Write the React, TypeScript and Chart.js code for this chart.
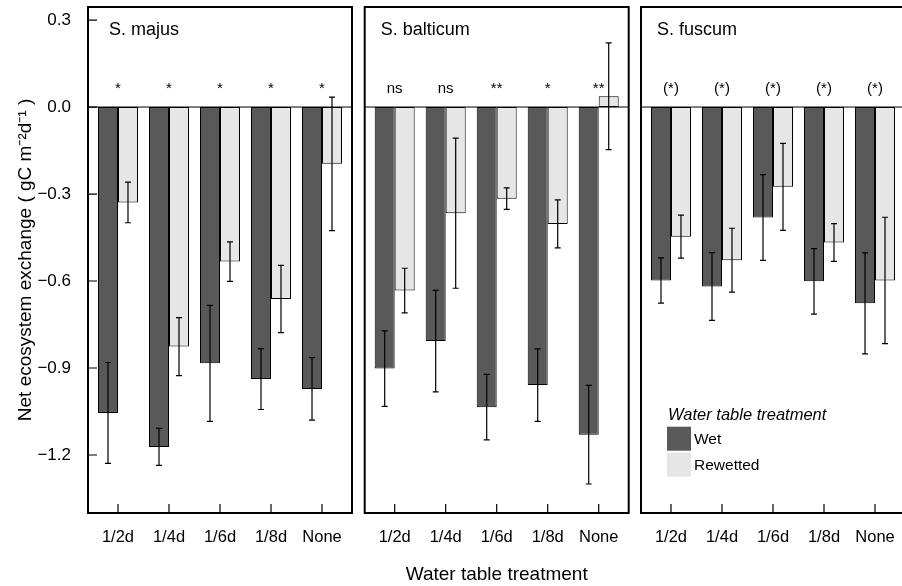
import React, { useEffect, useRef } from "react";
import { Chart, registerables } from "chart.js";
Chart.register(...registerables);

// ---------- data ----------
const categories = ["1/2d", "1/4d", "1/6d", "1/8d", "None"];
const seriesNames = ["Wet", "Rewetted"];
const yTickValues = [-1.2, -0.9, -0.6, -0.3, 0, 0.3];

const majusWet = [-1.055, -1.172, -0.884, -0.938, -0.972];
const majusWetErr = [0.174, 0.064, 0.2, 0.105, 0.108];
const majusRewet = [-0.329, -0.826, -0.533, -0.662, -0.196];
const majusRewetErr = [0.07, 0.1, 0.068, 0.116, 0.23];
const majusSig = ["*", "*", "*", "*", "*"];

const balticumWet = [-0.902, -0.807, -1.035, -0.959, -1.13];
const balticumWetErr = [0.13, 0.175, 0.113, 0.125, 0.17];
const balticumRewet = [-0.633, -0.366, -0.316, -0.403, 0.037];
const balticumRewetErr = [0.077, 0.259, 0.037, 0.083, 0.184];
const balticumSig = ["ns", "ns", "**", "*", "**"];

const fuscumWet = [-0.598, -0.619, -0.381, -0.601, -0.677];
const fuscumWetErr = [0.078, 0.117, 0.148, 0.113, 0.174];
const fuscumRewet = [-0.447, -0.528, -0.275, -0.467, -0.598];
const fuscumRewetErr = [0.074, 0.11, 0.15, 0.065, 0.218];
const fuscumSig = ["(*)", "(*)", "(*)", "(*)", "(*)"];

const yTitle = "Net ecosystem exchange ( gC m\u207B\u00B2d\u207B\u00B9 )";
const xTitle = "Water table treatment";
const legendTitle = "Water table treatment";

// ---------- styles ----------
const FONT = "'Liberation Sans', Arial, Helvetica, sans-serif";
const WET = "#595959";
const REWET = "#e6e6e6";
const H = 586;

type Panel = {
  title: string;
  wet: number[];
  wetErr: number[];
  rew: number[];
  rewErr: number[];
  sig: string[];
  left: number;
  width: number;
  padL: number;
  padR: number;
  titleDx: number;
  showY: boolean;
  showXTitle: boolean;
  showLegend: boolean;
};

const panels: Panel[] = [
  { title: "S. majus", wet: majusWet, wetErr: majusWetErr, rew: majusRewet, rewErr: majusRewetErr, sig: majusSig,
    left: 0, width: 360, padL: 0, padR: 8, titleDx: 21, showY: true, showXTitle: false, showLegend: false },
  { title: "S. balticum", wet: balticumWet, wetErr: balticumWetErr, rew: balticumRewet, rewErr: balticumRewetErr, sig: balticumSig,
    left: 358, width: 280, padL: 6.7, padR: 9.3, titleDx: 16, showY: false, showXTitle: true, showLegend: false },
  { title: "S. fuscum", wet: fuscumWet, wetErr: fuscumWetErr, rew: fuscumRewet, rewErr: fuscumRewetErr, sig: fuscumSig,
    left: 634, width: 280, padL: 7, padR: 9, titleDx: 16, showY: false, showXTitle: false, showLegend: true },
];

const fmtY = (v: number) => (v < -1e-9 ? "\u2212" : "") + Math.abs(v).toFixed(1);

const decorPlugin = {
  id: "panelDecor",
  afterDatasetsDraw(chart: any, _args: any, opts: any) {
    const { ctx, chartArea: a, scales } = chart;
    const xs = scales.x;
    const ys = scales.y;
    ctx.save();
    ctx.strokeStyle = "#000";
    ctx.fillStyle = "#000";

    // zero line
    const y0 = ys.getPixelForValue(0);
    ctx.lineWidth = 1;
    ctx.beginPath();
    ctx.moveTo(a.left, y0);
    ctx.lineTo(a.right, y0);
    ctx.stroke();

    // error bars
    ctx.lineWidth = 1.2;
    chart.data.datasets.forEach((ds: any, di: number) => {
      const meta = chart.getDatasetMeta(di);
      const errs: number[] = opts.errors[di];
      meta.data.forEach((bar: any, i: number) => {
        const v = ds.data[i].y;
        const e = errs[i];
        const t = ys.getPixelForValue(v + e);
        const b = ys.getPixelForValue(v - e);
        const cx = bar.x;
        ctx.beginPath();
        ctx.moveTo(cx, t);
        ctx.lineTo(cx, b);
        ctx.moveTo(cx - 3, t);
        ctx.lineTo(cx + 3, t);
        ctx.moveTo(cx - 3, b);
        ctx.lineTo(cx + 3, b);
        ctx.stroke();
      });
    });

    // significance labels
    ctx.font = `15px ${FONT}`;
    ctx.textAlign = "center";
    ctx.textBaseline = "alphabetic";
    opts.sig.forEach((s: string, i: number) => {
      ctx.fillText(s, xs.getPixelForValue(i + 1), y0 - 14);
    });

    // inward ticks
    ctx.lineWidth = 1.2;
    ctx.beginPath();
    categories.forEach((_c, i) => {
      const px = xs.getPixelForValue(i + 1);
      ctx.moveTo(px, a.bottom);
      ctx.lineTo(px, a.bottom - 9);
    });
    if (opts.showY) {
      yTickValues.forEach((v) => {
        const py = ys.getPixelForValue(v);
        ctx.moveTo(a.left, py);
        ctx.lineTo(a.left + 9, py);
      });
    }
    ctx.stroke();

    // frame
    ctx.lineWidth = 2;
    ctx.strokeRect(a.left, a.top, a.right - a.left, a.bottom - a.top);

    // panel title
    ctx.font = `18px ${FONT}`;
    ctx.textAlign = "left";
    ctx.textBaseline = "alphabetic";
    ctx.fillText(opts.title, a.left + opts.titleDx, a.top + 28);

    // legend
    if (opts.showLegend) {
      ctx.font = `italic 16.5px ${FONT}`;
      ctx.fillText(legendTitle, a.left + 27, a.bottom - 93);
      const colors = [WET, REWET];
      ctx.font = `15.5px ${FONT}`;
      ctx.textBaseline = "middle";
      seriesNames.forEach((n, i) => {
        const top = a.bottom - 86.3 + i * 26;
        ctx.fillStyle = colors[i];
        ctx.fillRect(a.left + 26, top, 24, 24);
        ctx.fillStyle = "#000";
        ctx.fillText(n, a.left + 53, top + 13);
      });
    }
    ctx.restore();
  },
};

function PanelChart({ p }: { p: Panel }) {
  const ref = useRef<HTMLCanvasElement>(null);
  useEffect(() => {
    const chart = new Chart(ref.current as HTMLCanvasElement, {
      type: "bar",
      data: {
        datasets: [
          {
            label: seriesNames[0],
            data: p.wet.map((v, i) => ({ x: i + 1, y: v })),
            backgroundColor: WET,
            borderColor: "#000",
            borderWidth: 1,
            borderSkipped: false,
          },
          {
            label: seriesNames[1],
            data: p.rew.map((v, i) => ({ x: i + 1, y: v })),
            backgroundColor: REWET,
            borderColor: "#000",
            borderWidth: 1,
            borderSkipped: false,
          },
        ],
      } as any,
      options: {
        animation: false,
        responsive: false,
        maintainAspectRatio: false,
        devicePixelRatio: 1,
        layout: { padding: { top: 7, left: p.padL, right: p.padR, bottom: 0 } },
        datasets: { bar: { categoryPercentage: 0.784, barPercentage: 1 } } as any,
        plugins: {
          legend: { display: false },
          tooltip: { enabled: false },
          panelDecor: {
            errors: [p.wetErr, p.rewErr],
            sig: p.sig,
            title: p.title,
            titleDx: p.titleDx,
            showY: p.showY,
            showLegend: p.showLegend,
          },
        } as any,
        scales: {
          x: {
            type: "linear",
            min: 0.412,
            max: 5.588,
            offset: false,
            afterBuildTicks: (s: any) => {
              s.ticks = categories.map((_c, i) => ({ value: i + 1 }));
            },
            afterFit: (s: any) => {
              s.height = 73;
              s.paddingLeft = 0;
              s.paddingRight = 0;
            },
            ticks: {
              callback: (_v: any, i: number) => categories[i],
              font: { family: FONT, size: 16.5 },
              color: "#000",
              padding: 15,
              maxRotation: 0,
              minRotation: 0,
              autoSkip: false,
            },
            grid: { display: false, drawTicks: false },
            border: { display: false },
            title: {
              display: p.showXTitle,
              text: xTitle,
              font: { family: FONT, size: 19 },
              color: "#000",
              padding: { top: 0, bottom: 0 },
            },
          },
          y: {
            display: p.showY,
            min: -1.4,
            max: 0.345,
            afterBuildTicks: (s: any) => {
              s.ticks = yTickValues.map((v) => ({ value: v }));
            },
            afterFit: (s: any) => {
              if (p.showY) s.width = 88;
              s.paddingTop = 0;
              s.paddingBottom = 0;
            },
            ticks: {
              callback: (v: any) => fmtY(Number(v)),
              font: { family: FONT, size: 17 },
              color: "#000",
              padding: 17,
            },
            grid: { display: false, drawTicks: false },
            border: { display: false },
            title: {
              display: true,
              text: yTitle,
              font: { family: FONT, size: 19 },
              color: "#000",
              padding: { top: 14, bottom: 0 },
            },
          },
        } as any,
      },
      plugins: [decorPlugin],
    });
    return () => chart.destroy();
  }, [p]);
  return (
    <canvas
      ref={ref}
      width={p.width}
      height={H}
      style={{ position: "absolute", left: p.left, top: 0, width: p.width, height: H }}
    />
  );
}

export default function App() {
  return (
    <div
      style={{
        position: "absolute",
        left: 0,
        top: 0,
        width: 902,
        height: H,
        overflow: "hidden",
        background: "#fff",
      }}
    >
      {panels.map((p) => (
        <PanelChart key={p.title} p={p} />
      ))}
    </div>
  );
}
